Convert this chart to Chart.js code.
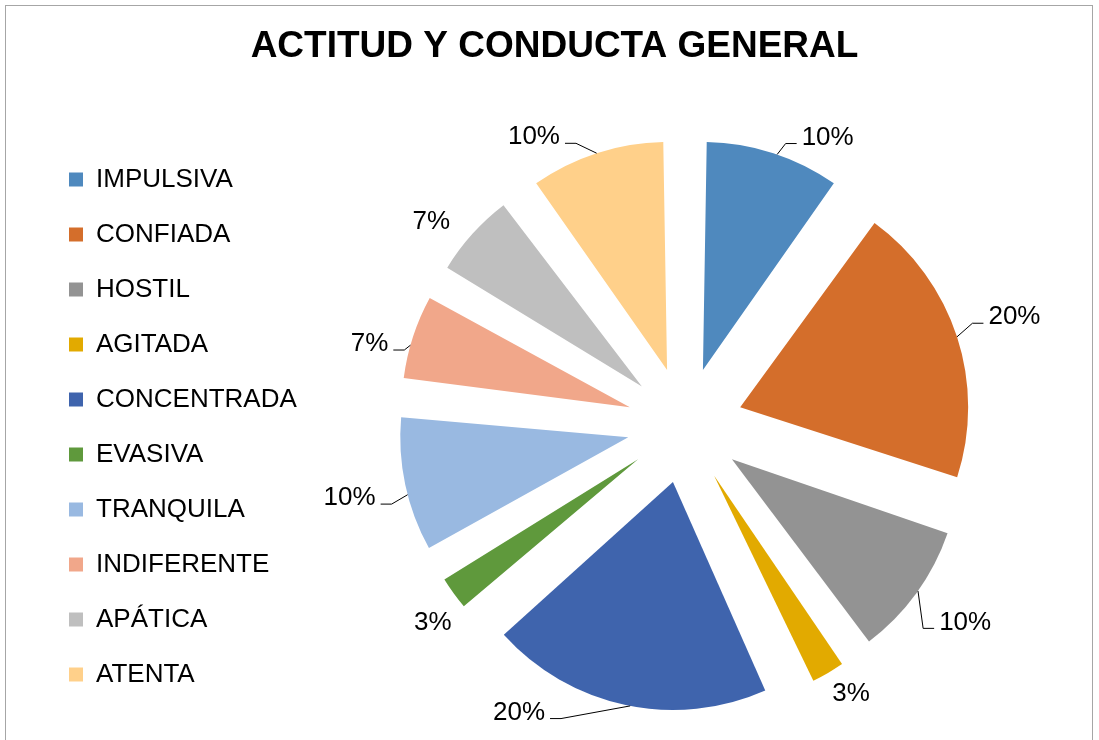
<!DOCTYPE html>
<html>
<head>
<meta charset="utf-8">
<script src="https://cdn.jsdelivr.net/npm/chart.js@4.4.1/dist/chart.umd.min.js"></script>
<style>
  html, body { margin: 0; padding: 0; background: #fff; }
  #wrap { position: absolute; left: 0; top: 0; width: 1099px; height: 740px; }
  #frame { position: absolute; left: 5px; top: 5px; width: 1086px; height: 760px; border: 1px solid #a6a6a6; pointer-events: none; }
</style>
</head>
<body>
<div id="wrap"><canvas id="chart" width="1099" height="740"></canvas></div>
<div id="frame"></div>
<script>
const categories = ['IMPULSIVA', 'CONFIADA', 'HOSTIL', 'AGITADA', 'CONCENTRADA', 'EVASIVA', 'TRANQUILA', 'INDIFERENTE', 'APÁTICA', 'ATENTA'];
const counts = [3, 6, 3, 1, 6, 1, 3, 2, 2, 3];
const sliceColors = ['#4f89be', '#d46e2b', '#939393', '#e2aa00', '#3f64ad', '#5f993c', '#99b9e1', '#f1a78a', '#bfbfbf', '#ffd08a'];

// label placement: angle (deg, clockwise from top), extra distance past the slice edge,
// and where the leader line meets the slice edge (deg from top, null = no line)
const labelPlace = [
  { a: 26.3, d: 36, t: 19 },
  { a: 71.7, d: 61, t: 72 },
  { a: 125, d: 56, t: 125.3 },
  { a: 148.2, d: 29, t: null },
  { a: 210.1, d: 45, t: 190.8 },
  { a: 232, d: 34, t: null },
  { a: 257.9, d: 57, t: 255.4 },
  { a: 284.6, d: 40, t: 285.8 },
  { a: 308.9, d: 40, t: null },
  { a: 332.4, d: 40, t: 342 }
];

const PIE_R = 228;
const EXPLODE = 232; // chart.js moves each arc by offset / 4

// keep every exploded slice at the same outer radius
const evenRadius = {
  id: 'evenRadius',
  beforeDatasetsDraw(chart) {
    const meta = chart.getDatasetMeta(0);
    const base = meta.controller.outerRadius;
    meta.data.forEach(arc => {
      const circ = arc.endAngle - arc.startAngle;
      const fix = 1 - Math.sin(Math.min(Math.PI, circ));
      arc.outerRadius = base - (arc.options.offset / 4) * fix;
    });
  }
};

const pieLabels = {
  id: 'pieLabels',
  afterDatasetsDraw(chart) {
    const meta = chart.getDatasetMeta(0);
    const ctx = chart.ctx;
    const total = counts.reduce((s, v) => s + v, 0);
    const R = meta.controller.outerRadius;
    ctx.save();
    ctx.font = '26px "Liberation Sans", Arial, sans-serif';
    ctx.fillStyle = '#000';
    ctx.strokeStyle = '#000';
    ctx.lineWidth = 1;
    ctx.textBaseline = 'middle';
    meta.data.forEach((arc, i) => {
      const p = labelPlace[i];
      const shift = arc.options.offset / 4;
      const mid = (arc.startAngle + arc.endAngle) / 2;
      const cx = arc.x + Math.cos(mid) * shift;
      const cy = arc.y + Math.sin(mid) * shift;
      const ang = (p.a - 90) * Math.PI / 180;
      const dist = R + EXPLODE / 4 + p.d;
      const lx = arc.x + Math.cos(ang) * dist;
      const ly = arc.y + Math.sin(ang) * dist;
      const txt = Math.round(counts[i] / total * 100) + '%';
      const w = ctx.measureText(txt).width;
      ctx.textAlign = 'center';
      ctx.fillText(txt, lx, ly + 1);
      if (p.t === null) return;
      const right = lx > arc.x;
      const x0 = right ? lx - w / 2 - 5 : lx + w / 2 + 5;
      const x1 = right ? x0 - 11 : x0 + 11;
      const y0 = ly + 7;
      const t = (p.t - 90) * Math.PI / 180;
      const ex = cx + Math.cos(t) * R;
      const ey = cy + Math.sin(t) * R;
      ctx.beginPath();
      ctx.moveTo(x0, y0);
      ctx.lineTo(x1, y0);
      ctx.lineTo(ex, ey);
      ctx.stroke();
    });
    ctx.restore();
  }
};

new Chart(document.getElementById('chart'), {
  type: 'pie',
  data: {
    labels: categories,
    datasets: [{
      data: counts,
      backgroundColor: sliceColors,
      borderWidth: 0,
      offset: EXPLODE,
      hoverOffset: 0
    }]
  },
  plugins: [evenRadius, pieLabels],
  options: {
    responsive: false,
    animation: false,
    radius: PIE_R,
    layout: { padding: { left: 40, right: 30, top: 0, bottom: 0 } },
    plugins: {
      title: {
        display: true,
        text: 'ACTITUD Y CONDUCTA GENERAL',
        color: '#000',
        font: { family: '"Liberation Sans", Arial, sans-serif', size: 37, weight: 'bold' },
        padding: { top: 25, bottom: 41 }
      },
      legend: {
        position: 'left',
        maxWidth: 261,
        title: {
          display: true,
          text: ' ',
          font: { size: 10 },
          padding: 51
        },
        labels: {
          color: '#000',
          font: { family: '"Liberation Sans", Arial, sans-serif', size: 26 },
          boxWidth: 14,
          boxHeight: 14,
          padding: 29
        }
      },
      tooltip: { enabled: false }
    }
  }
});
</script>
</body>
</html>
